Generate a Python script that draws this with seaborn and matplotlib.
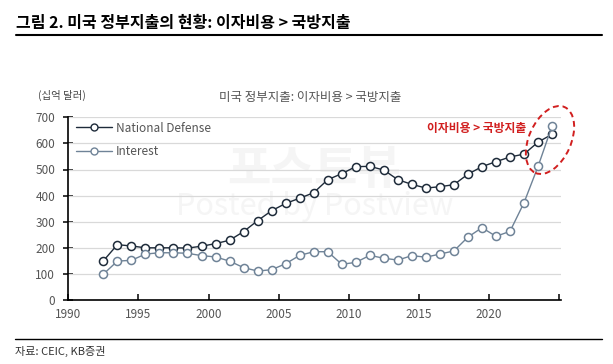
import numpy as np
import pandas as pd
import seaborn as sns
import matplotlib
matplotlib.use("Agg")
import matplotlib.pyplot as plt
from matplotlib.patches import Ellipse
from matplotlib.lines import Line2D
from matplotlib.transforms import IdentityTransform

years = list(range(1992, 2025))
defense = [150, 212, 207, 200, 200, 200, 199, 206, 216, 229, 262, 304, 342, 370, 390, 411,
           461, 484, 511, 512, 498, 461, 443, 429, 434, 442, 482, 511, 530, 548, 559, 605, 635]
interest = [99, 149, 152, 176, 181, 181, 179, 170, 165, 149, 124, 111, 116, 139, 171, 185,
            185, 137, 144, 171, 160, 153, 170, 164, 176, 188, 241, 277, 244, 263, 373, 512, 667]
series_names = ["National Defense", "Interest"]
yticks = [0, 100, 200, 300, 400, 500, 600, 700]
xticks = [1990, 1995, 2000, 2005, 2010, 2015, 2020]

sns.set_theme(style="white")
plt.rcParams["font.family"] = ["Noto Sans CJK KR", "DejaVu Sans"]

W, H = 613, 364
fig = plt.figure(figsize=(W / 100, H / 100), dpi=100)
ax = fig.add_axes([68.3 / W, 1 - 300 / H, (560.5 - 68.3) / W, (300 - 117.3) / H])

df = pd.DataFrame({
    "x": [y + 0.5 for y in years] * 2,
    "value": defense + interest,
    "series": [series_names[0]] * len(years) + [series_names[1]] * len(years),
})
colors = {"National Defense": "#1e2b3a", "Interest": "#6f8397"}

# watermark (behind everything)
ax.text(0.5, 0.71, "포스트뷰", transform=ax.transAxes, fontsize=34, fontweight="bold",
        color="#f5f5f5", ha="center", va="center", zorder=0)
ax.text(0.5, 0.51, "Posted by Postview", transform=ax.transAxes, fontsize=22,
        color="#f5f5f5", ha="center", va="center", zorder=0)

for name in series_names:
    d = df[df["series"] == name]
    sns.lineplot(data=d, x="x", y="value", ax=ax, color=colors[name], lw=1.0,
                 marker="o", markersize=5.8, markerfacecolor="white",
                 markeredgecolor=colors[name], markeredgewidth=1.1, legend=False, zorder=3)

ax.set_xlim(1990, 2025.1)
ax.set_ylim(0, 700)
ax.set_yticks(yticks)
ax.set_xticks(xticks + [2025])
ax.set_xticklabels([str(t) for t in xticks] + [""])
ax.set_xlabel("")
ax.set_ylabel("")
for y in yticks[1:]:
    ax.axhline(y, color="#d9d9d9", lw=0.9, zorder=1)
for s in ["top", "right"]:
    ax.spines[s].set_visible(False)
for s in ["left", "bottom"]:
    ax.spines[s].set_color("black")
    ax.spines[s].set_linewidth(1.2)
ax.tick_params(axis="y", direction="inout", length=7, width=1.1, color="black",
               labelsize=8.5, labelcolor="#555555", pad=6, left=True)
ax.tick_params(axis="x", direction="in", length=4, width=1.1, color="black",
               labelsize=8.5, labelcolor="#555555", pad=6, bottom=True)
ax.grid(False)

handles = [Line2D([0], [0], color=colors[n], lw=1.0, marker="o", markersize=5,
                  markerfacecolor="white", markeredgecolor=colors[n]) for n in series_names]
leg = ax.legend(handles, series_names, loc="upper left", bbox_to_anchor=(-0.005, 1.035),
                frameon=False, fontsize=8.5, handlelength=3.0, handletextpad=0.35,
                labelspacing=0.9, labelcolor="#555555")

# annotation
ell = Ellipse((550, H - 140), width=42, height=72, angle=-24, transform=IdentityTransform(),
              fill=False, edgecolor="#d11f1f", lw=1.4, ls=(0, (3, 2)), zorder=5)
fig.add_artist(ell)
fig.text(526 / W, 1 - 128 / H, "이자비용 > 국방지출", fontsize=8.5, color="#d11f1f",
         ha="right", va="center", fontweight="bold")

fig.text(310 / W, 1 - 97 / H, "미국 정부지출: 이자비용 > 국방지출", fontsize=9,
         color="#555555", ha="center", va="center")
fig.text(38 / W, 1 - 95 / H, "(십억 달러)", fontsize=7.5, color="#444444",
         ha="left", va="center")

fig.text(16 / W, 1 - 23 / H, "그림 2. 미국 정부지출의 현황: 이자비용 > 국방지출", fontsize=11.5,
         fontweight="bold", color="black", ha="left", va="center")
fig.add_artist(Line2D([16 / W, 602 / W], [1 - 34.7 / H] * 2, color="black", lw=1.5,
                      transform=fig.transFigure))
fig.add_artist(Line2D([15 / W, 602 / W], [1 - 339.3 / H] * 2, color="black", lw=1.0,
                      transform=fig.transFigure))
fig.text(15 / W, 1 - 351 / H, "자료: CEIC, KB증권", fontsize=8, color="#333333",
         ha="left", va="center")

fig.savefig("out.png", dpi=100)
